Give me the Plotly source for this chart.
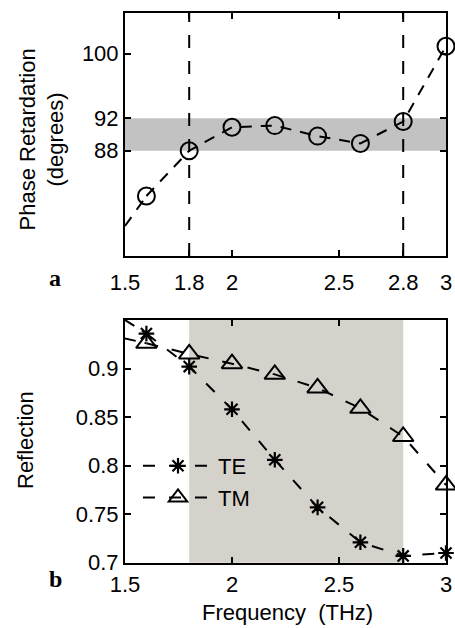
import plotly.graph_objects as go

# ---- data ----
freq = [1.6, 1.8, 2.0, 2.2, 2.4, 2.6, 2.8, 3.0]
phase = [82.4, 88.0, 90.9, 91.1, 89.8, 88.9, 91.6, 100.9]
phase_edge_x = 1.5
phase_edge_y = 78.7
te = [0.936, 0.902, 0.858, 0.806, 0.757, 0.721, 0.707, 0.710]
te_edge_y = 0.950
tm = [0.926, 0.915, 0.905, 0.894, 0.880, 0.859, 0.830, 0.780]
tm_edge_y = 0.931

band_lo, band_hi = 88, 92          # target retardation band
freq_lo, freq_hi = 1.8, 2.8        # operating frequency window

top_xticks = [1.5, 1.8, 2, 2.5, 2.8, 3]
top_xtext = ["1.5", "1.8", "2", "2.5", "2.8", "3"]
top_yticks = [88, 92, 100]
bot_xticks = [1.5, 2, 2.5, 3]
bot_xtext = ["1.5", "2", "2.5", "3"]
bot_yticks = [0.7, 0.75, 0.8, 0.85, 0.9]
bot_ytext = ["0.7", "0.75", "0.8", "0.85", "0.9"]

FONT = "Liberation Sans, Arial, sans-serif"
FS = 22
DASH = "11px,9px"

fig = go.Figure()

# top panel
fig.add_trace(go.Scatter(x=[phase_edge_x, freq[0]], y=[phase_edge_y, phase[0]],
                         mode="lines", line=dict(color="black", width=2, dash=DASH),
                         showlegend=False, xaxis="x", yaxis="y"))
fig.add_trace(go.Scatter(x=freq, y=phase, mode="lines+markers",
                         line=dict(color="black", width=2, dash=DASH),
                         marker=dict(symbol="circle-open", size=17, color="black",
                                     line=dict(width=2, color="black")),
                         cliponaxis=False, showlegend=False, xaxis="x", yaxis="y"))

# bottom panel
fig.add_trace(go.Scatter(x=[phase_edge_x, freq[0]], y=[te_edge_y, te[0]],
                         mode="lines", line=dict(color="black", width=2, dash=DASH),
                         showlegend=False, xaxis="x2", yaxis="y2"))
fig.add_trace(go.Scatter(x=[phase_edge_x, freq[0]], y=[tm_edge_y, tm[0]],
                         mode="lines", line=dict(color="black", width=2, dash=DASH),
                         showlegend=False, xaxis="x2", yaxis="y2"))
fig.add_trace(go.Scatter(x=freq, y=te, mode="lines+markers", name="TE",
                         line=dict(color="black", width=2, dash="12px,14px"),
                         marker=dict(symbol="asterisk-open", size=13, color="black",
                                     line=dict(width=2.2, color="black")),
                         cliponaxis=False, xaxis="x2", yaxis="y2"))
fig.add_trace(go.Scatter(x=freq, y=tm, mode="lines+markers", name="TM",
                         line=dict(color="black", width=2, dash="12px,14px"),
                         marker=dict(symbol="triangle-up-open", size=18, color="black",
                                     line=dict(width=2, color="black")),
                         cliponaxis=False, xaxis="x2", yaxis="y2"))

shapes = [
    dict(type="rect", xref="x domain", yref="y", x0=0, x1=1, y0=band_lo, y1=band_hi,
         fillcolor="#c2c2c2", line=dict(width=0), layer="below"),
    dict(type="line", xref="x", yref="y domain", x0=freq_lo, x1=freq_lo, y0=0, y1=1,
         line=dict(color="black", width=2, dash="13px,13px"), layer="above"),
    dict(type="line", xref="x", yref="y domain", x0=freq_hi, x1=freq_hi, y0=0, y1=1,
         line=dict(color="black", width=2, dash="13px,13px"), layer="above"),
    dict(type="rect", xref="x2", yref="y2 domain", x0=freq_lo, x1=freq_hi, y0=0, y1=1,
         fillcolor="#d5d1cb", line=dict(width=0), layer="below"),
]

axis_common = dict(showline=True, linecolor="black", linewidth=2, mirror="ticks",
                   ticks="inside", ticklen=6, tickwidth=1.5, tickcolor="black",
                   showgrid=False, zeroline=False, automargin=False,
                   tickfont=dict(family=FONT, size=FS, color="black"))

XD = [125 / 455, 446 / 455]

fig.update_layout(
    template="none",
    width=455, height=628,
    margin=dict(l=0, r=0, t=0, b=0),
    paper_bgcolor="white", plot_bgcolor="white",
    font=dict(family=FONT, size=FS, color="black"),
    xaxis=dict(domain=XD, anchor="y", range=[1.5, 3], tickvals=top_xticks,
               ticktext=top_xtext, ticklabelstandoff=6, **axis_common),
    yaxis=dict(domain=[1 - 256 / 628, 1 - 13 / 628], anchor="x", range=[75, 105],
               tickvals=top_yticks, **axis_common),
    xaxis2=dict(domain=XD, anchor="y2", range=[1.5, 3], tickvals=bot_xticks,
                ticktext=bot_xtext, ticklabelstandoff=1, **axis_common),
    yaxis2=dict(domain=[1 - 562.7 / 628, 1 - 320 / 628], anchor="x2", range=[0.7, 0.95],
                tickvals=bot_yticks, ticktext=bot_ytext, **axis_common),
    shapes=shapes,
    showlegend=True,
    legend=dict(x=138 / 455, y=1 - 445 / 628, xanchor="left", yanchor="top",
                bgcolor="rgba(0,0,0,0)", borderwidth=0,
                font=dict(family=FONT, size=FS, color="black"),
                tracegroupgap=0, itemwidth=70),
    annotations=[
        dict(text="Phase Retardation<br>(degrees)", textangle=-90, xref="paper", yref="paper",
             x=41.5 / 455, y=1 - 140 / 628, showarrow=False, xanchor="center", yanchor="middle",
             font=dict(family=FONT, size=FS, color="black")),
        dict(text="Reflection", textangle=-90, xref="paper", yref="paper",
             x=25 / 455, y=1 - 440 / 628, showarrow=False, xanchor="center", yanchor="middle",
             font=dict(family=FONT, size=FS, color="black")),
        dict(text="Frequency\u00a0\u00a0(THz)", xref="paper", yref="paper",
             x=287 / 455, y=1 - 612 / 628, showarrow=False, xanchor="center", yanchor="middle",
             font=dict(family=FONT, size=FS, color="black")),
        dict(text="<b>a</b>", xref="paper", yref="paper",
             x=55 / 455, y=1 - 278 / 628, showarrow=False, xanchor="center", yanchor="middle",
             font=dict(family="Liberation Serif, Times New Roman, serif", size=24, color="black")),
        dict(text="<b>b</b>", xref="paper", yref="paper",
             x=55 / 455, y=1 - 579 / 628, showarrow=False, xanchor="center", yanchor="middle",
             font=dict(family="Liberation Serif, Times New Roman, serif", size=24, color="black")),
    ],
)

fig.write_html("out.html")
